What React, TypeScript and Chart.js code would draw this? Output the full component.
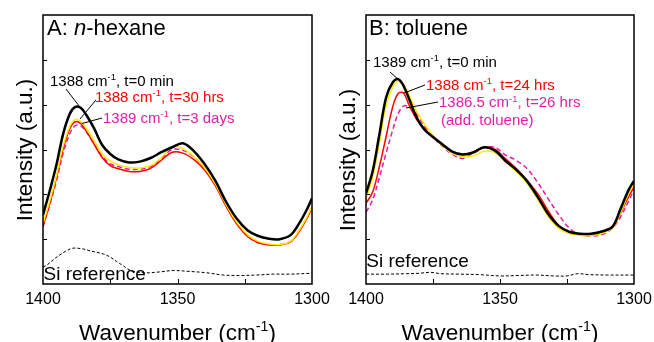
import React, { useEffect, useRef } from 'react';
import { Chart, registerables } from 'chart.js';
Chart.register(...registerables);

const FONT = '"Liberation Sans", Arial, Helvetica, sans-serif';

// ---- axis ticks ----
const xTickStep = 25;
const labeledTicks = [1400, 1350, 1300];
const yMin = 0;
const yMax = 6;

// ---- Panel A: n-hexane ----
const wnA = [1400, 1397.5, 1395, 1392.5, 1390, 1388, 1386, 1384, 1381, 1378, 1375, 1372, 1368, 1364, 1360, 1356, 1352, 1348, 1344, 1340, 1336, 1332, 1328, 1324, 1320, 1316, 1312, 1308, 1305, 1302, 1300];
const hexT0 = [1.54, 2.08, 2.66, 3.35, 3.80, 3.95, 3.93, 3.78, 3.47, 3.10, 2.90, 2.78, 2.71, 2.73, 2.81, 2.94, 3.05, 3.14, 2.97, 2.68, 2.31, 1.84, 1.46, 1.20, 1.07, 1.01, 1.00, 1.09, 1.33, 1.65, 1.91];
const hexMid = [1.35, 1.85, 2.42, 3.08, 3.52, 3.67, 3.63, 3.48, 3.20, 2.90, 2.74, 2.66, 2.60, 2.59, 2.64, 2.82, 3.07, 3.02, 2.85, 2.60, 2.24, 1.78, 1.38, 1.10, 0.95, 0.89, 0.88, 0.95, 1.18, 1.48, 1.74];
const hexT30h = [1.28, 1.80, 2.38, 3.02, 3.47, 3.62, 3.58, 3.42, 3.12, 2.82, 2.64, 2.57, 2.51, 2.51, 2.58, 2.76, 2.94, 2.92, 2.78, 2.55, 2.20, 1.74, 1.34, 1.06, 0.92, 0.87, 0.87, 0.94, 1.15, 1.45, 1.70];
const hexT3d = [1.28, 1.76, 2.30, 2.92, 3.36, 3.53, 3.53, 3.40, 3.12, 2.85, 2.68, 2.62, 2.56, 2.56, 2.62, 2.80, 3.00, 2.98, 2.84, 2.58, 2.22, 1.76, 1.36, 1.08, 0.93, 0.88, 0.88, 0.95, 1.16, 1.46, 1.71];
const siWnA = [1400, 1398.6, 1396, 1393.7, 1391, 1388.7, 1385, 1382.5, 1377.6, 1375, 1372.6, 1370, 1367.7, 1362.7, 1356.5, 1351.6, 1345.4, 1339.1, 1333, 1326.8, 1320.6, 1314.4, 1308.2, 1300];
const siRefA = [0.38, 0.42, 0.55, 0.65, 0.75, 0.80, 0.78, 0.74, 0.67, 0.60, 0.50, 0.40, 0.31, 0.25, 0.27, 0.30, 0.28, 0.25, 0.20, 0.19, 0.20, 0.22, 0.22, 0.24];

// ---- Panel B: toluene ----
const wnB = [1400, 1397.5, 1395, 1392.5, 1390, 1388, 1386, 1384, 1381, 1378, 1375, 1372, 1368, 1364, 1360, 1356, 1352, 1348, 1344, 1340, 1336, 1332, 1328, 1324, 1320, 1316, 1312, 1308, 1305, 1302, 1300];
const tolT0 = [2.02, 2.52, 3.34, 4.16, 4.50, 4.57, 4.42, 4.14, 3.70, 3.43, 3.28, 3.14, 2.96, 2.89, 2.93, 3.05, 2.98, 2.75, 2.55, 2.30, 1.95, 1.56, 1.29, 1.16, 1.12, 1.12, 1.17, 1.28, 1.68, 2.10, 2.30];
const tolMid = [1.90, 2.38, 3.15, 3.98, 4.40, 4.53, 4.45, 4.22, 3.84, 3.55, 3.32, 3.12, 2.92, 2.84, 2.86, 2.96, 2.93, 2.72, 2.51, 2.26, 1.90, 1.50, 1.24, 1.12, 1.08, 1.08, 1.13, 1.25, 1.60, 2.02, 2.24];
const tolT24h = [1.80, 2.05, 2.62, 3.29, 3.96, 4.25, 4.26, 4.00, 3.66, 3.45, 3.27, 3.12, 2.95, 2.89, 2.95, 3.05, 3.01, 2.80, 2.58, 2.32, 2.02, 1.63, 1.30, 1.16, 1.12, 1.12, 1.16, 1.28, 1.58, 1.95, 2.16];
const tolT26h = [1.60, 1.88, 2.38, 2.92, 3.44, 3.80, 3.97, 3.95, 3.78, 3.50, 3.28, 3.10, 2.90, 2.80, 2.92, 3.04, 3.05, 2.88, 2.76, 2.58, 2.27, 1.90, 1.54, 1.24, 1.10, 1.07, 1.10, 1.25, 1.50, 1.85, 2.10];
const siWnB = [1400, 1392, 1385, 1380, 1376, 1372, 1365, 1358, 1350, 1343, 1336, 1330, 1325, 1321, 1317, 1310, 1300];
const siRefB = [0.22, 0.22, 0.23, 0.24, 0.26, 0.23, 0.22, 0.21, 0.18, 0.19, 0.20, 0.18, 0.18, 0.23, 0.21, 0.20, 0.20];

const BLACK = '#000000';
const RED = '#ff0000';
const YELLOW = '#ffee00';
const MAGENTA = '#e01ea8';

type Part = { t: string; sup?: boolean; it?: boolean };
type TextItem = { parts: Part[]; x: number; y: number; size: number; color: string; align?: 'left' | 'center'; rotate?: boolean };

function pts(xs: number[], ys: number[]) {
  return xs.map((x, i) => ({ x, y: ys[i] }));
}

function drawRich(ctx: CanvasRenderingContext2D, item: TextItem) {
  const { parts, size, color } = item;
  const supSize = size * 0.63;
  const fontFor = (p: Part) => `${p.it ? 'italic ' : ''}${p.sup ? supSize : size}px ${FONT}`;
  const widths = parts.map((p) => {
    ctx.font = fontFor(p);
    return ctx.measureText(p.t).width;
  });
  const total = widths.reduce((a, b) => a + b, 0);
  ctx.save();
  ctx.translate(item.x, item.y);
  if (item.rotate) ctx.rotate(-Math.PI / 2);
  let cx = item.align === 'center' ? -total / 2 : 0;
  ctx.fillStyle = color;
  ctx.textBaseline = 'alphabetic';
  ctx.textAlign = 'left';
  parts.forEach((p, i) => {
    ctx.font = fontFor(p);
    ctx.fillText(p.t, cx, p.sup ? -size * 0.38 : 0);
    cx += widths[i];
  });
  ctx.restore();
}

type PanelCfg = {
  texts: TextItem[];
  leaders: number[][];
};

const decorPlugin = {
  id: 'decor',
  afterDatasetsDraw(chart: any, _args: any, opts: PanelCfg) {
    const { ctx, chartArea: a, scales } = chart;
    ctx.save();
    ctx.strokeStyle = '#000';
    ctx.lineWidth = 1.5;
    ctx.strokeRect(a.left, a.top, a.right - a.left, a.bottom - a.top);
    ctx.lineWidth = 1;
    scales.y.ticks.forEach((t: any) => {
      if (t.value > scales.y.min && t.value < scales.y.max) {
        const py = Math.round(scales.y.getPixelForValue(t.value)) + 0.5;
        ctx.beginPath();
        ctx.moveTo(a.left, py);
        ctx.lineTo(a.left + 4, py);
        ctx.stroke();
      }
    });
    scales.x.ticks.forEach((t: any) => {
      if (t.value > scales.x.min && t.value < scales.x.max) {
        const px = Math.round(scales.x.getPixelForValue(t.value)) + 0.5;
        ctx.beginPath();
        ctx.moveTo(px, a.bottom);
        ctx.lineTo(px, a.bottom - 5);
        ctx.stroke();
      }
    });
    ctx.lineWidth = 1;
    ctx.strokeStyle = '#000';
    (opts.leaders || []).forEach((l) => {
      ctx.beginPath();
      ctx.moveTo(l[0], l[1]);
      ctx.lineTo(l[2], l[3]);
      ctx.stroke();
    });
    (opts.texts || []).forEach((t) => drawRich(ctx, t));
    ctx.restore();
  },
};

function makeConfig(
  series: { data: { x: number; y: number }[]; color: string; width: number; dash?: number[]; order: number }[],
  yAxisWidth: number,
  padRight: number,
  decor: PanelCfg
): any {
  return {
    type: 'line',
    data: {
      datasets: series.map((s) => ({
        data: s.data,
        borderColor: s.color,
        borderWidth: s.width,
        borderDash: s.dash || [],
        pointRadius: 0,
        tension: 0.35,
        fill: false,
        order: s.order,
      })),
    },
    options: {
      animation: false,
      responsive: false,
      events: [],
      layout: { padding: { left: 0, right: padRight, top: 15, bottom: 0 } },
      plugins: { legend: { display: false }, tooltip: { enabled: false }, decor },
      scales: {
        x: {
          type: 'linear',
          min: 1300,
          max: 1400,
          reverse: true,
          grid: { display: false, drawTicks: false },
          border: { display: false },
          ticks: {
            stepSize: xTickStep,
            autoSkip: false,
            maxRotation: 0,
            padding: 6,
            color: '#000',
            font: { family: FONT, size: 16 },
            callback: (v: number) => (labeledTicks.includes(v) ? String(v) : ''),
          },
          afterFit: (s: any) => {
            s.height = 58;
            s.paddingLeft = 0;
            s.paddingRight = 0;
          },
        },
        y: {
          min: yMin,
          max: yMax,
          grid: { display: false, drawTicks: false },
          border: { display: false },
          ticks: { display: false, stepSize: 1 },
          afterFit: (s: any) => {
            s.width = yAxisWidth;
            s.paddingTop = 0;
            s.paddingBottom = 0;
          },
        },
      },
    },
    plugins: [decorPlugin],
  };
}

const lbl = (num: string, rest: string): Part[] => [{ t: num + ' cm' }, { t: '-1', sup: true }, { t: rest }];
const xTitle: Part[] = [{ t: 'Wavenumber (cm' }, { t: '-1', sup: true }, { t: ')' }];
const yTitle: Part[] = [{ t: 'Intensity (a.u.)' }];

const decorA: PanelCfg = {
  texts: [
    { parts: [{ t: 'A: ' }, { t: 'n', it: true }, { t: '-hexane' }], x: 47, y: 35, size: 22, color: BLACK },
    { parts: lbl('1388', ', t=0 min'), x: 50, y: 86, size: 15, color: BLACK },
    { parts: lbl('1388', ', t=30 hrs'), x: 95, y: 101.5, size: 15, color: RED },
    { parts: lbl('1389', ', t=3 days'), x: 103, y: 123, size: 15, color: MAGENTA },
    { parts: [{ t: 'Si reference' }], x: 43.5, y: 280, size: 19, color: BLACK },
    { parts: xTitle, x: 177.5, y: 339.5, size: 22.5, color: BLACK, align: 'center' },
    { parts: yTitle, x: 32, y: 150, size: 22.5, color: BLACK, align: 'center', rotate: true },
  ],
  leaders: [
    [66, 89, 83, 111],
    [96, 100, 80, 119],
    [102, 118, 82, 123.5],
  ],
};

const OB = 330;
const decorB: PanelCfg = {
  texts: [
    { parts: [{ t: 'B: toluene' }], x: 369 - OB, y: 35, size: 22, color: BLACK },
    { parts: lbl('1389', ', t=0 min'), x: 373 - OB, y: 66.5, size: 15, color: BLACK },
    { parts: lbl('1388', ', t=24 hrs'), x: 426 - OB, y: 90, size: 15, color: RED },
    { parts: lbl('1386.5', ', t=26 hrs'), x: 439 - OB, y: 107.3, size: 15, color: MAGENTA },
    { parts: [{ t: '(add. toluene)' }], x: 441 - OB, y: 125, size: 15, color: MAGENTA },
    { parts: [{ t: 'Si reference' }], x: 366.3 - OB, y: 267.3, size: 19, color: BLACK },
    { parts: xTitle, x: 500 - OB, y: 339.5, size: 22.5, color: BLACK, align: 'center' },
    { parts: yTitle, x: 355 - OB, y: 160, size: 22.5, color: BLACK, align: 'center', rotate: true },
  ],
  leaders: [
    [390 - OB, 72, 399 - OB, 80],
    [425 - OB, 85, 404 - OB, 93],
    [438 - OB, 102, 406 - OB, 108],
  ],
};

export default function App() {
  const refA = useRef<HTMLCanvasElement>(null);
  const refB = useRef<HTMLCanvasElement>(null);

  useEffect(() => {
    document.body.style.margin = '0';
    const cA = new Chart(
      refA.current!,
      makeConfig(
        [
          { data: pts(siWnA, siRefA), color: BLACK, width: 1, dash: [3, 2], order: 5 },
          { data: pts(wnA, hexT3d), color: MAGENTA, width: 1.5, dash: [5, 3], order: 4 },
          { data: pts(wnA, hexT30h), color: RED, width: 1.5, order: 3 },
          { data: pts(wnA, hexMid), color: YELLOW, width: 1.5, order: 2 },
          { data: pts(wnA, hexT0), color: BLACK, width: 2.5, order: 1 },
        ],
        43,
        28,
        decorA
      )
    );
    const cB = new Chart(
      refB.current!,
      makeConfig(
        [
          { data: pts(siWnB, siRefB), color: BLACK, width: 1, dash: [3, 2], order: 5 },
          { data: pts(wnB, tolT26h), color: MAGENTA, width: 1.5, dash: [5, 3], order: 4 },
          { data: pts(wnB, tolT24h), color: RED, width: 1.5, order: 3 },
          { data: pts(wnB, tolMid), color: YELLOW, width: 1.5, order: 2 },
          { data: pts(wnB, tolT0), color: BLACK, width: 2.5, order: 1 },
        ],
        36,
        20,
        decorB
      )
    );
    return () => {
      cA.destroy();
      cB.destroy();
    };
  }, []);

  return (
    <div style={{ position: 'relative', width: 654, height: 342, background: '#fff' }}>
      <canvas ref={refA} width={340} height={342} style={{ position: 'absolute', left: 0, top: 0 }} />
      <canvas ref={refB} width={324} height={342} style={{ position: 'absolute', left: OB, top: 0 }} />
    </div>
  );
}
